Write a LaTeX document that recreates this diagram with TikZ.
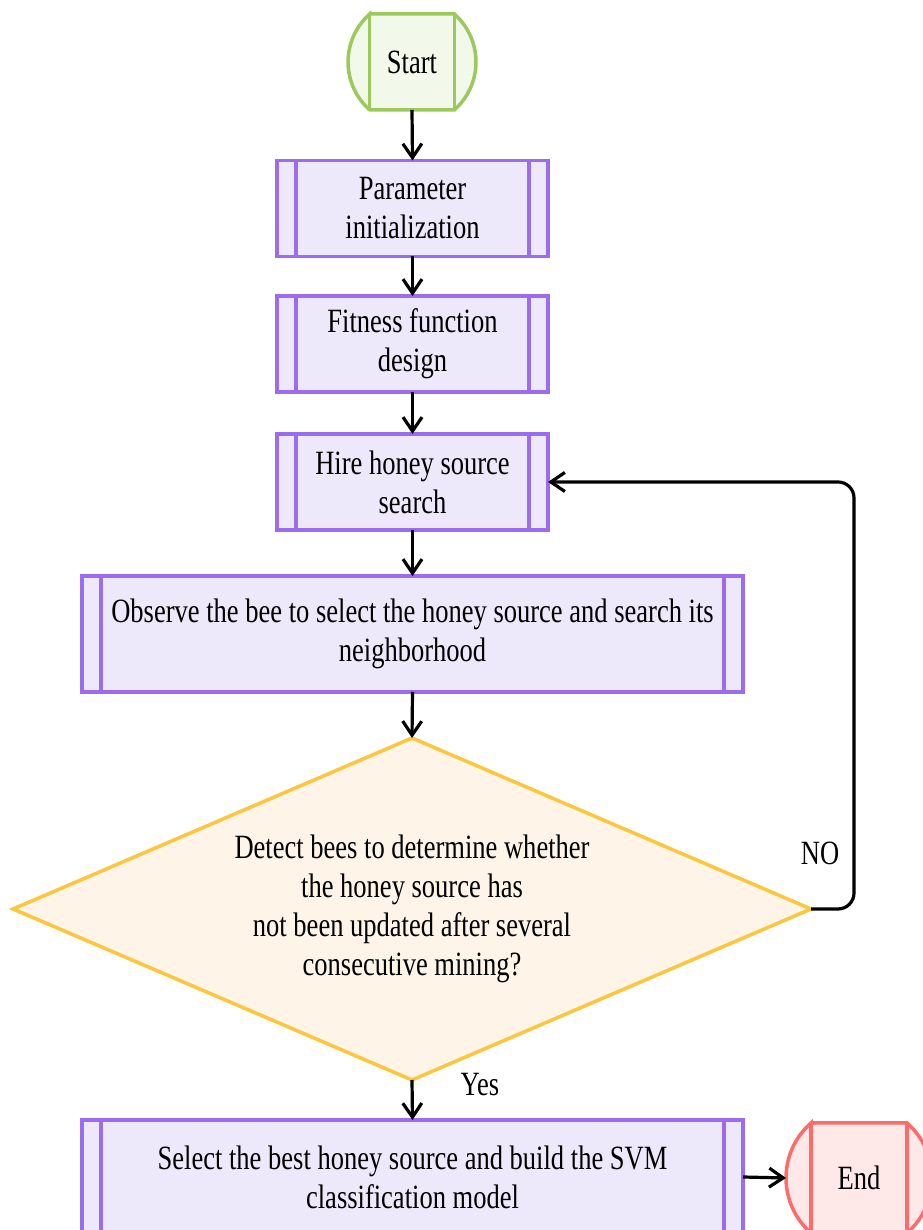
\documentclass[tikz,border=0pt]{standalone}
\usepackage{fontspec}
\setmainfont{Liberation Serif}[FakeStretch=0.78]
\usetikzlibrary{shapes.geometric,arrows.meta,calc}
\definecolor{purpline}{HTML}{9B6CF0}
\definecolor{purpfill}{HTML}{EDE8FA}
\definecolor{grnline}{HTML}{9CC95C}
\definecolor{grnfill}{HTML}{F2F8EA}
\definecolor{yelline}{HTML}{FCC63F}
\definecolor{yelfill}{HTML}{FEF4E8}
\definecolor{redline}{HTML}{FF6B6B}
\definecolor{redfill}{HTML}{FFE8E8}
\tikzset{
  every node/.style={font=\fontsize{34}{39}\selectfont, text=black},
  procbox/.style={draw=purpline, fill=purpfill, line width=3.5pt, outer sep=0pt,
     inner sep=0pt, align=center, minimum width=271pt, minimum height=96pt},
  widebox/.style={procbox, minimum width=661pt, minimum height=116pt},
  innerline/.style={draw=purpline, line width=3.5pt},
  decbox/.style={shape=diamond, draw=yelline, fill=yelfill, line width=3.5pt,
     outer sep=0pt, inner sep=0pt, aspect=2.333, minimum width=798pt,
     minimum height=342pt, align=center},
  termshape/.style={line width=3.5pt},
  conn/.style={draw=black, line width=3.2pt,
     -{Straight Barb[length=14pt,width=19pt]}},
  lbl/.style={inner sep=0pt}
}
\begin{document}
\begin{tikzpicture}[x=1pt,y=1pt]
\useasboundingbox (0,0) rectangle (922,1230);
% Start terminal
\coordinate (sc) at (412,1168);
\draw[termshape, draw=grnline, fill=grnfill]
  ($(sc)+(-42.3,48)$) -- ($(sc)+(42.3,48)$)
  arc[start angle=48.6, end angle=-48.6, radius=64]
  -- ($(sc)+(-42.3,-48)$)
  arc[start angle=228.6, end angle=131.4, radius=64] -- cycle;
\draw[termshape, draw=grnline] ($(sc)+(-42.3,48)$) -- ($(sc)+(-42.3,-48)$)
  ($(sc)+(42.3,48)$) -- ($(sc)+(42.3,-48)$);
\node[shape=rectangle, minimum width=84.6pt, minimum height=96pt, inner sep=0pt, outer sep=0pt] (start) at (sc) {Start};
% End terminal
\coordinate (ec) at (859,52);
\draw[termshape, draw=redline, fill=redfill]
  ($(ec)+(-48,55)$) -- ($(ec)+(48,55)$)
  arc[start angle=48.9, end angle=-48.9, radius=73]
  -- ($(ec)+(-48,-55)$)
  arc[start angle=228.9, end angle=131.1, radius=73] -- cycle;
\draw[termshape, draw=redline] ($(ec)+(-48,55)$) -- ($(ec)+(-48,-55)$)
  ($(ec)+(48,55)$) -- ($(ec)+(48,-55)$);
\node[shape=circle, minimum size=146pt, inner sep=0pt, outer sep=0pt] (end) at (ec) {End};
% process boxes
\node[procbox] (param) at (412.5,1021.5) {Parameter\\initialization};
\node[procbox] (fit) at (412.5,886) {Fitness function\\design};
\node[procbox] (hire) at (412.5,748) {Hire honey source\\search};
\node[widebox] (obs) at (412.5,596) {Observe the bee to select the honey source and search its\\neighborhood};
\node[decbox] (dec) at (412,321) {Detect bees to determine whether\\the honey source has\\not been updated after several\\consecutive mining?};
\node[widebox, minimum height=114pt] (sel) at (412.5,53) {Select the best honey source and build the SVM\\classification model};
\foreach \n in {param,fit,hire,obs,sel}{
  \draw[innerline] ([xshift=19pt]\n.north west) -- ([xshift=19pt]\n.south west);
  \draw[innerline] ([xshift=-19pt]\n.north east) -- ([xshift=-19pt]\n.south east);
}
% connectors
\draw[conn] (start.south) -- (param.north);
\draw[conn] (param.south) -- (fit.north);
\draw[conn] (fit.south) -- (hire.north);
\draw[conn] (hire.south) -- (obs.north);
\draw[conn] (obs.south) -- (dec.north);
\draw[conn] (dec.south) -- (sel.north);
\draw[conn] (sel.east) -- (end.west);
\draw[conn, rounded corners=16pt] (dec.east) -- ++(43,0) |- (hire.east);
\node[lbl] (no) at (820,377) {NO};
\node[lbl] (yes) at (480,145) {Yes};
\end{tikzpicture}
\end{document}
